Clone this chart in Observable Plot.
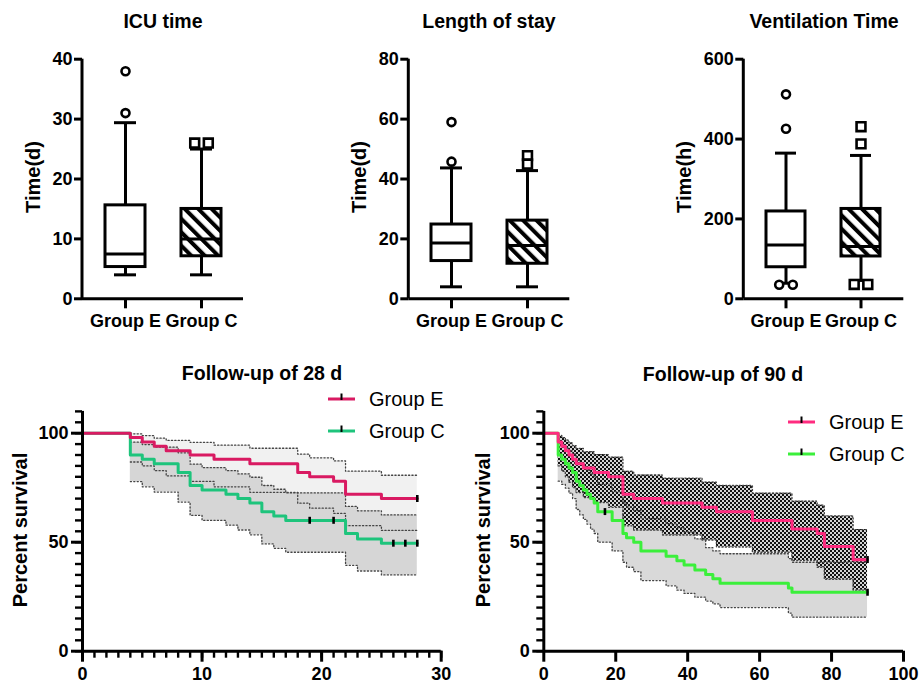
<!DOCTYPE html>
<html><head><meta charset="utf-8">
<script src="https://cdn.jsdelivr.net/npm/d3@7"></script>
<script src="https://cdn.jsdelivr.net/npm/@observablehq/plot@0.6"></script>
<style>
body{margin:0;background:#fff;}
#root{position:relative;width:921px;height:684px;background:#fff;font-family:"Liberation Sans",Arial,sans-serif;color:#000;overflow:hidden;}
.title{position:absolute;transform:translate(-50%,-50%);font-weight:bold;font-size:19.5px;white-space:nowrap;line-height:24px;}
.ylab{position:absolute;transform:translate(-50%,-50%) rotate(-90deg);font-weight:bold;font-size:20px;white-space:nowrap;line-height:24px;}
.legtext{position:absolute;font-size:20px;line-height:24px;white-space:nowrap;}
</style></head><body>
<svg width="0" height="0" style="position:absolute">
<defs>
<pattern id="hatch" patternUnits="userSpaceOnUse" width="9.5" height="9.5" patternTransform="rotate(-45)">
<rect width="9.5" height="9.5" fill="white"/><rect width="4" height="9.5" fill="black"/></pattern>
<pattern id="checker" patternUnits="userSpaceOnUse" width="4" height="4"><rect width="4" height="4" fill="#d4d4d4"/><rect width="2" height="2" fill="#111"/><rect x="2" y="2" width="2" height="2" fill="#111"/></pattern>
</defs></svg>
<div id="root"></div>
<script>
// ---------- Box plot data ----------
const groups = ["Group E", "Group C"];

// ICU time (d)
const icuLow = [4, 4], icuQ1 = [5.3, 7.1], icuMed = [7.5, 10], icuQ3 = [15.6, 15], icuHigh = [29.4, 25];
const icuOutGroup = ["Group E", "Group E", "Group C", "Group C"];
const icuOutValue = [38, 31, 26, 26];

// Length of stay (d)
const losLow = [4, 4], losQ1 = [12.6, 11.7], losMed = [18.6, 17.8], losQ3 = [24.8, 26.1], losHigh = [43.7, 42.8];
const losOutGroup = ["Group E", "Group E", "Group C", "Group C"];
const losOutValue = [59, 45.8, 47.8, 45];

// Ventilation time (h)
const venLow = [39, 46], venQ1 = [79, 106], venMed = [135, 131], venQ3 = [218.7, 225], venHigh = [364.8, 359];
const venOutGroup = ["Group E", "Group E", "Group E", "Group E", "Group C", "Group C", "Group C", "Group C"];
const venOutValue = [512, 426, 35, 35, 431, 388, 36, 36];

// ---------- Kaplan-Meier data: 28 d ----------
const km28TimeE = [0, 4, 5, 6, 7, 9, 11, 14, 18, 19, 21, 22, 25, 28];
const km28SurvE = [100, 98, 96, 94, 92, 90, 88, 86, 82, 80, 78, 72, 70, 70];
const km28CiTimeE = [4, 5, 6, 7, 9, 11, 14, 18, 19, 21, 22, 25, 28];
const km28HiE = [99.7, 98.9, 97.7, 96.7, 95.8, 94.5, 93.1, 90.4, 88.7, 87.3, 82.6, 80.7, 80.7];
const km28LoE = [86.8, 85.0, 82.8, 80.4, 77.9, 75.4, 72.9, 67.9, 65.6, 63.2, 57.6, 55.4, 55.4];
const km28CensorTimeE = [28];
const km28CensorSurvE = [70];

const km28TimeC = [0, 4, 5, 6, 8, 9, 10, 12, 13, 14, 15, 16, 17, 22, 23, 25, 28];
const km28SurvC = [100, 90, 88, 86, 82, 76, 74, 72, 70, 68, 64, 62, 60, 54, 51.5, 49.5, 49.5];
const km28CiTimeC = [4, 5, 6, 8, 9, 10, 12, 13, 14, 15, 16, 17, 22, 23, 25, 28];
const km28HiC = [95.9, 94.8, 93.6, 91.0, 85.8, 84.2, 82.8, 81.3, 79.8, 76.0, 74.3, 72.6, 66.4, 64.4, 62.5, 62.5];
const km28LoC = [77.8, 75.4, 73.0, 68.4, 62.3, 60.0, 57.8, 55.6, 53.4, 49.2, 47.2, 45.4, 39.4, 36.8, 35.0, 35.0];
const km28CensorTimeC = [19, 21, 26, 27, 28];
const km28CensorSurvC = [60, 60, 49.5, 49.5, 49.5];

// ---------- Kaplan-Meier data: 90 d ----------
const km90TimeE = [0, 4, 5, 6, 7, 8, 9, 11, 14, 18, 22, 25, 33, 44, 48, 58, 69, 76, 78, 86, 90];
const km90SurvE = [100, 96, 94, 92, 90, 88, 86, 84, 82, 80, 72, 70, 68, 66, 64, 60, 56, 54, 48, 42, 42];
const km90CiTimeE = [4, 5, 6, 7, 8, 9, 11, 14, 18, 22, 25, 33, 44, 48, 58, 69, 76, 78, 86, 90];
const km90HiE = [99, 98, 96.8, 95.5, 94.3, 93, 91.5, 90.2, 89, 82.5, 80.8, 79.3, 77.5, 76, 72.5, 68.8, 67, 62, 55.8, 55.8];
const km90LoE = [85, 82.5, 80, 77.5, 75, 72.8, 70.5, 68.2, 66, 57.5, 55.5, 53.3, 51, 47.8, 45.4, 41.6, 38.5, 33, 28, 28];
const km90CensorTimeE = [90];
const km90CensorSurvE = [42];

const km90TimeC = [0, 4, 5, 6, 7, 8, 9, 10, 11, 12, 13, 14, 15, 19, 22, 23, 25, 27, 34, 37, 39, 42, 45, 47, 49, 68, 69, 90];
const km90SurvC = [100, 90, 88, 86, 84, 82, 78, 76, 74, 72, 70, 68, 64, 60, 54, 52, 50, 46, 43.5, 41.5, 39.5, 37.3, 35.2, 33.2, 31.2, 29, 27, 27];
const km90CiTimeC = [4, 5, 6, 7, 8, 9, 10, 11, 12, 13, 14, 15, 19, 22, 23, 25, 27, 34, 37, 39, 42, 45, 47, 49, 68, 69, 90];
const km90HiC = [95.5, 94.5, 93.2, 92, 90.5, 87.5, 86, 84.5, 83, 81.3, 79.8, 76.5, 73.2, 68, 66.2, 64.5, 60.8, 58.5, 56.7, 54.8, 51.5, 47.5, 46, 44.7, 42.5, 40.8, 40.8];
const km90LoC = [78, 76.5, 74.8, 72.5, 70, 65, 62.5, 60.5, 58.3, 56, 54, 50, 46, 40.8, 38.5, 36.5, 32.4, 30, 28, 26.5, 24.8, 23, 21.7, 20, 17.5, 15.6, 15.6];
const km90CensorTimeC = [17, 90];
const km90CensorSurvC = [64, 27];

// tick values
const kmMinorY = [0, 5, 10, 15, 20, 25, 30, 35, 40, 45, 50, 55, 60, 65, 70, 75, 80, 85, 90, 95, 100, 105, 110];
const km28MinorX = [0, 1, 2, 3, 4, 5, 6, 7, 8, 9, 10, 11, 12, 13, 14, 15, 16, 17, 18, 19, 20, 21, 22, 23, 24, 25, 26, 27, 28, 29, 30];

// ---------- helpers ----------
const root = document.getElementById("root");
const baseStyle = {fontFamily: '"Liberation Sans", Arial, sans-serif', fontSize: "18px", fontWeight: "bold", color: "black", background: "transparent", overflow: "visible"};
const SVGNS = "http://www.w3.org/2000/svg";

function place(svg, left, top) {
  svg.style.position = "absolute";
  svg.style.left = left + "px";
  svg.style.top = top + "px";
  svg.style.maxWidth = "none";
  root.appendChild(svg);
}
function addText(cls, text, x, y) {
  const d = document.createElement("div");
  d.className = cls; d.textContent = text;
  d.style.left = x + "px"; d.style.top = y + "px";
  root.appendChild(d);
}
const yAxisLine = (index, scales, values, dims) => {
  const l = document.createElementNS(SVGNS, "line");
  l.setAttribute("x1", dims.marginLeft); l.setAttribute("x2", dims.marginLeft);
  l.setAttribute("y1", dims.marginTop); l.setAttribute("y2", dims.height - dims.marginBottom);
  l.setAttribute("stroke", "black"); l.setAttribute("stroke-width", 3);
  return l;
};
const vtick = {draw(ctx) { ctx.moveTo(0, -3.6); ctx.lineTo(0, 3.4); }};

function boxPanel(o) {
  const stats = groups.map((g, i) => ({g, low: o.low[i], q1: o.q1[i], med: o.med[i], q3: o.q3[i], high: o.high[i]}));
  const outs = o.outValue.map((v, i) => ({g: o.outGroup[i], v}));
  outs.forEach(d => {
    const same = outs.filter(e => e.g === d.g && e.v === d.v);
    d.k = same.length > 1 ? (same.indexOf(d) === 0 ? -1 : 1) : 0;
  });
  const dotMarks = [];
  for (const g of groups) for (const k of [-1, 0, 1]) {
    const sub = outs.filter(d => d.g === g && d.k === k);
    if (!sub.length) continue;
    dotMarks.push(Plot.dot(sub, {x: "g", y: "v", dx: k * 6.8, symbol: g === "Group E" ? "circle" : "square",
      r: g === "Group E" ? 4 : 5, stroke: "black", strokeWidth: 2.6, fill: "white"}));
  }
  const svg = Plot.plot({
    width: o.width, height: 345,
    marginLeft: o.marginLeft, marginRight: o.marginRight, marginTop: 58.7, marginBottom: 46.7,
    x: {type: "band", domain: groups, paddingInner: 0.4737, paddingOuter: 0.296, label: null},
    y: {domain: [0, o.yMax], label: null},
    style: baseStyle,
    marks: [
      Plot.ruleX(stats, {x: "g", y1: "low", y2: "q1", stroke: "black", strokeWidth: 3}),
      Plot.ruleX(stats, {x: "g", y1: "q3", y2: "high", stroke: "black", strokeWidth: 3}),
      Plot.barY(stats.filter(d => d.g === "Group E"), {x: "g", y1: "q1", y2: "q3", fill: "white", stroke: "black", strokeWidth: 3}),
      Plot.barY(stats.filter(d => d.g === "Group C"), {x: "g", y1: "q1", y2: "q3", fill: "url(#hatch)", stroke: "black", strokeWidth: 3}),
      Plot.tickY(stats, {x: "g", y: "med", stroke: "black", strokeWidth: 3}),
      Plot.tickY(stats, {x: "g", y: "low", stroke: "black", strokeWidth: 3, insetLeft: 9, insetRight: 9}),
      Plot.tickY(stats, {x: "g", y: "high", stroke: "black", strokeWidth: 3, insetLeft: 9, insetRight: 9}),
      ...dotMarks,
      Plot.axisY(o.yTicks, {tickSize: 8, tickPadding: 2, strokeWidth: 3}),
      Plot.axisX({tickSize: 10, tickPadding: 5, strokeWidth: 3}),
      Plot.ruleY([0], {stroke: "black", strokeWidth: 3}),
      yAxisLine
    ]
  });
  place(svg, o.left, 0);
}

function kmPanel(o) {
  const marks = [];
  const ciData = o.series.map(s => s.ciT.map((t, i) => ({t, lo: s.lo[i], hi: s.hi[i]})));
  o.bandOrder.forEach(j => marks.push(Plot.areaY(ciData[j], {x: "t", y1: "lo", y2: "hi", curve: "step-after", fill: o.series[j].band})));
  o.series.forEach((s, j) => {
    marks.push(Plot.line(ciData[j], {x: "t", y: "hi", curve: "step-after", stroke: "#444", strokeWidth: 1.3, strokeDasharray: "1.2,2.2"}));
    marks.push(Plot.line(ciData[j], {x: "t", y: "lo", curve: "step-after", stroke: "#444", strokeWidth: 1.3, strokeDasharray: "1.2,2.2"}));
  });
  [1, 0].forEach(j => {
    const s = o.series[j];
    marks.push(Plot.line(s.t.map((t, i) => ({t, s: s.s[i]})), {x: "t", y: "s", curve: "step-after", stroke: s.color, strokeWidth: 3}));
  });
  o.series.forEach(s => {
    marks.push(Plot.dot(s.ct.map((t, i) => ({t, s: s.cs[i]})), {x: "t", y: "s", symbol: vtick, r: 3.6, stroke: "black", fill: "none", strokeWidth: 2.6}));
  });
  marks.push(
    Plot.axisY(kmMinorY, {tickSize: 7, strokeWidth: 2.4, tickFormat: () => ""}),
    Plot.axisY([0, 50, 100], {tickSize: 11, tickPadding: 3, strokeWidth: 3}),
    Plot.axisX(o.xMajor, {tickSize: 11, tickPadding: 5, strokeWidth: 3}),
    Plot.ruleX([0], {stroke: "black", strokeWidth: 3}),
    Plot.ruleY([0], {stroke: "black", strokeWidth: 3})
  );
  if (o.xMinor.length) marks.push(Plot.axisX(o.xMinor, {tickSize: 7, strokeWidth: 2.4, tickFormat: () => ""}));
  const svg = Plot.plot({
    width: o.width, height: 324,
    marginLeft: o.marginLeft, marginRight: o.marginRight, marginTop: 50.9, marginBottom: 33.3,
    x: {domain: [0, o.xMax], label: null},
    y: {domain: [0, 110], label: null},
    style: baseStyle,
    marks
  });
  place(svg, o.left, 360);
  // legend
  o.series.forEach((s, j) => {
    const y = o.legendY[j];
    const ls = d3.create("svg").attr("width", 30).attr("height", 14)
      .style("position", "absolute").style("left", (o.legendX - 2) + "px").style("top", (y - 8) + "px");
    ls.append("line").attr("x1", 2).attr("x2", 29).attr("y1", 8).attr("y2", 8).attr("stroke", s.color).attr("stroke-width", 3);
    ls.append("line").attr("x1", 15.5).attr("x2", 15.5).attr("y1", 2.5).attr("y2", 9).attr("stroke", "black").attr("stroke-width", 2);
    root.appendChild(ls.node());
    addText("legtext", s.name, o.legendX + 41, y - 12);
  });
}

// ---------- draw ----------
boxPanel({left: 0, width: 300, marginLeft: 82, marginRight: 57, yMax: 40, yTicks: [0, 10, 20, 30, 40],
  low: icuLow, q1: icuQ1, med: icuMed, q3: icuQ3, high: icuHigh, outGroup: icuOutGroup, outValue: icuOutValue});
boxPanel({left: 300, width: 310, marginLeft: 108.3, marginRight: 40.7, yMax: 80, yTicks: [0, 20, 40, 60, 80],
  low: losLow, q1: losQ1, med: losMed, q3: losQ3, high: losHigh, outGroup: losOutGroup, outValue: losOutValue});
boxPanel({left: 610, width: 311, marginLeft: 133.3, marginRight: 17.7, yMax: 600, yTicks: [0, 200, 400, 600],
  low: venLow, q1: venQ1, med: venMed, q3: venQ3, high: venHigh, outGroup: venOutGroup, outValue: venOutValue});

kmPanel({left: 0, width: 460, marginLeft: 82, marginRight: 19.3, xMax: 30,
  xMajor: [0, 10, 20, 30], xMinor: km28MinorX, bandOrder: [0, 1],
  legendX: 328, legendY: [399.3, 431],
  series: [
    {name: "Group E", color: "#d91a62", band: "#f1f1f1", t: km28TimeE, s: km28SurvE, ciT: km28CiTimeE, hi: km28HiE, lo: km28LoE, ct: km28CensorTimeE, cs: km28CensorSurvE},
    {name: "Group C", color: "#1ec47c", band: "#d6d6d6", t: km28TimeC, s: km28SurvC, ciT: km28CiTimeC, hi: km28HiC, lo: km28LoC, ct: km28CensorTimeC, cs: km28CensorSurvC}
  ]});
kmPanel({left: 460, width: 461, marginLeft: 83.3, marginRight: 18, xMax: 100,
  xMajor: [0, 20, 40, 60, 80, 100], xMinor: [], bandOrder: [1, 0],
  legendX: 328 + 460, legendY: [421.7, 454.3],
  series: [
    {name: "Group E", color: "#ff2b7f", band: "url(#checker)", t: km90TimeE, s: km90SurvE, ciT: km90CiTimeE, hi: km90HiE, lo: km90LoE, ct: km90CensorTimeE, cs: km90CensorSurvE},
    {name: "Group C", color: "#3bef3b", band: "#d9d9d9", t: km90TimeC, s: km90SurvC, ciT: km90CiTimeC, hi: km90HiC, lo: km90LoC, ct: km90CensorTimeC, cs: km90CensorSurvC}
  ]});

addText("title", "ICU time", 163, 21);
addText("title", "Length of stay", 489, 21);
addText("title", "Ventilation Time", 824, 21);
addText("title", "Follow-up of 28 d", 262, 373);
addText("title", "Follow-up of 90 d", 723, 374);
addText("ylab", "Time(d)", 33, 177);
addText("ylab", "Time(d)", 358.5, 177);
addText("ylab", "Time(h)", 684, 177);
addText("ylab", "Percent survival", 20, 530);
addText("ylab", "Percent survival", 482.5, 530);
</script>
</body></html>
